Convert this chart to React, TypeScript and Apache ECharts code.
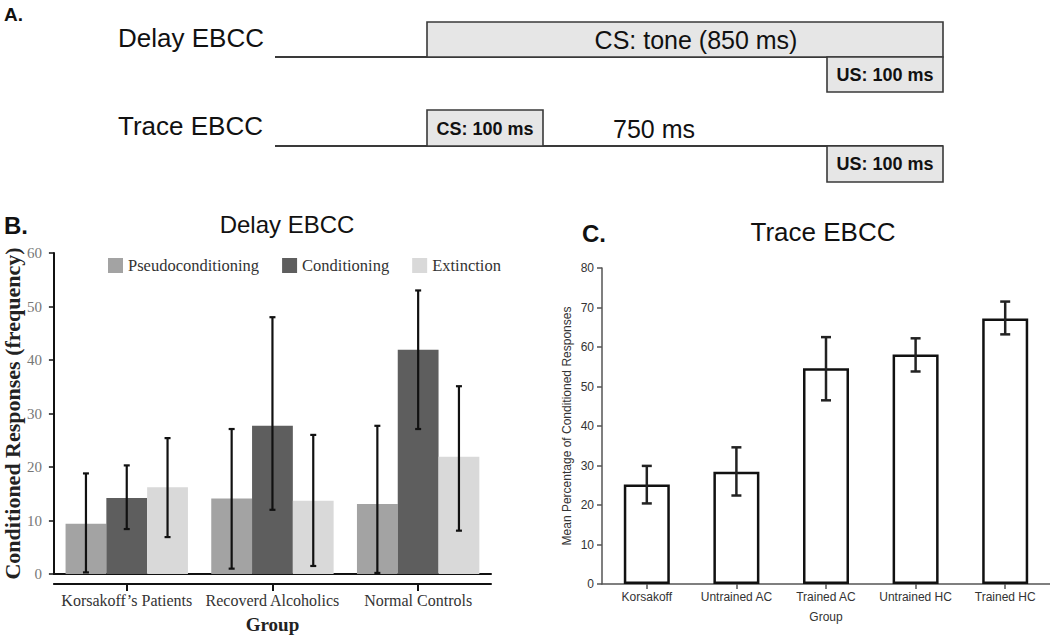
import React, { useEffect, useRef } from "react";
import * as echarts from "echarts";

// ---------- Panel B data (Delay EBCC) ----------
const B_CATEGORIES = ["Korsakoff’s Patients", "Recoverd Alcoholics", "Normal Controls"];
const B_SERIES_NAMES = ["Pseudoconditioning", "Conditioning", "Extinction"];
const B_PSEUDO = [9.4, 14.1, 13.1];
const B_PSEUDO_LO = [0.3, 1.0, 0.2];
const B_PSEUDO_HI = [18.8, 27.1, 27.7];
const B_COND = [14.2, 27.7, 41.9];
const B_COND_LO = [8.4, 12.0, 27.1];
const B_COND_HI = [20.3, 48.0, 53.0];
const B_EXT = [16.2, 13.7, 21.9];
const B_EXT_LO = [6.9, 1.5, 8.1];
const B_EXT_HI = [25.4, 26.0, 35.1];

// ---------- Panel C data (Trace EBCC) ----------
const C_CATEGORIES = ["Korsakoff", "Untrained AC", "Trained AC", "Untrained HC", "Trained HC"];
const C_MEANS = [25.2, 28.4, 54.6, 58.1, 67.2];
const C_LO = [20.4, 22.4, 46.5, 53.8, 63.2];
const C_HI = [29.9, 34.6, 62.5, 62.2, 71.5];

const SANS = "'Liberation Sans', Arial, Helvetica, sans-serif";
const SERIF = "'Liberation Serif', 'Times New Roman', serif";

const B_GROUP_FRAC = 0.84;

function errorBar(offsetIdx: number, groupSize: number, groupFrac: number, capHalf: number, lineW: number, color: string) {
  return (params: any, api: any) => {
    const xi = api.value(0);
    const lo = api.coord([xi, api.value(1)]);
    const hi = api.coord([xi, api.value(2)]);
    const band = api.size([1, 0])[0];
    const bw = (band * groupFrac) / groupSize;
    const cx = lo[0] + (offsetIdx - (groupSize - 1) / 2) * bw;
    const style = { stroke: color, lineWidth: lineW };
    return {
      type: "group",
      children: [
        { type: "line", shape: { x1: cx, y1: lo[1], x2: cx, y2: hi[1] }, style },
        { type: "line", shape: { x1: cx - capHalf, y1: hi[1], x2: cx + capHalf, y2: hi[1] }, style },
        { type: "line", shape: { x1: cx - capHalf, y1: lo[1], x2: cx + capHalf, y2: lo[1] }, style },
      ],
    };
  };
}

function errData(lo: number[], hi: number[]) {
  return lo.map((l, i) => [i, l, hi[i]]);
}

function buildPanelA(): any[] {
  const lineStyle = { stroke: "#3a3a3a", lineWidth: 2 };
  const boxStyle = { fill: "#e6e6e6", stroke: "#3a3a3a", lineWidth: 1.6 };
  const txt = (text: string, x: number, y: number, size: number, weight: string, align: string) => ({
    type: "text",
    x,
    y,
    style: { text, fontFamily: SANS, fontSize: size, fontWeight: weight, fill: "#111", align, verticalAlign: "middle" },
  });
  return [
    txt("A.", 4, 14, 19, "bold", "left"),
    txt("Delay EBCC", 118, 38, 26, "normal", "left"),
    { type: "line", shape: { x1: 275, y1: 57, x2: 943, y2: 57 }, style: lineStyle },
    { type: "rect", shape: { x: 427, y: 22, width: 516, height: 35 }, style: boxStyle },
    txt("CS: tone (850 ms)", 696, 40, 25, "normal", "center"),
    { type: "rect", shape: { x: 827, y: 57, width: 116, height: 35 }, style: boxStyle },
    txt("US: 100 ms", 885, 75, 18, "bold", "center"),
    txt("Trace EBCC", 118, 126, 26, "normal", "left"),
    { type: "line", shape: { x1: 275, y1: 146, x2: 943, y2: 146 }, style: lineStyle },
    { type: "rect", shape: { x: 427, y: 110, width: 116, height: 36 }, style: boxStyle },
    txt("CS: 100 ms", 485, 129, 18, "bold", "center"),
    txt("750 ms", 613, 129, 25, "normal", "left"),
    { type: "rect", shape: { x: 827, y: 146, width: 116, height: 36 }, style: boxStyle },
    txt("US: 100 ms", 885, 164, 18, "bold", "center"),
    txt("B.", 4, 225, 24, "bold", "left"),
    txt("C.", 582, 233, 24, "bold", "left"),
  ];
}

export default function App() {
  const ref = useRef<HTMLDivElement>(null);

  useEffect(() => {
    if (!ref.current) return;
    const chart = echarts.init(ref.current, undefined, { renderer: "svg" });
    const bColors = ["#a3a3a3", "#5e5e5e", "#d9d9d9"];
    const bValues = [B_PSEUDO, B_COND, B_EXT];
    const bErr = [
      errData(B_PSEUDO_LO, B_PSEUDO_HI),
      errData(B_COND_LO, B_COND_HI),
      errData(B_EXT_LO, B_EXT_HI),
    ];

    const option: any = {
      animation: false,
      backgroundColor: "#ffffff",
      title: [
        {
          text: "Delay EBCC",
          left: 287,
          top: 212,
          textAlign: "center",
          padding: 0,
          textStyle: { fontFamily: SANS, fontSize: 24, fontWeight: "normal", color: "#111" },
        },
        {
          text: "Trace EBCC",
          left: 823,
          top: 219,
          textAlign: "center",
          padding: 0,
          textStyle: { fontFamily: SANS, fontSize: 26, fontWeight: "normal", color: "#111" },
        },
      ],
      legend: {
        data: B_SERIES_NAMES,
        left: 108,
        top: 257,
        itemWidth: 15,
        itemHeight: 15,
        itemGap: 23,
        icon: "rect",
        padding: 0,
        textStyle: { fontFamily: SERIF, fontSize: 16.5, color: "#333" },
      },
      grid: [
        { left: 50, top: 253, width: 441, height: 325 },
        { left: 602, top: 268, width: 462, height: 316 },
      ],
      xAxis: [
        {
          gridIndex: 0,
          type: "category",
          data: B_CATEGORIES,
          axisLine: { lineStyle: { color: "#111", width: 2 } },
          axisTick: { show: false },
          axisLabel: { show: false },
        },
        {
          gridIndex: 0,
          type: "category",
          data: B_CATEGORIES,
          position: "bottom",
          offset: 10,
          axisLine: { lineStyle: { color: "#111", width: 2 } },
          axisTick: { show: true, alignWithLabel: true, length: 7, lineStyle: { color: "#111", width: 2 } },
          axisLabel: { interval: 0, margin: 8, fontFamily: SERIF, fontSize: 16, color: "#333" },
          name: "Group",
          nameLocation: "middle",
          nameGap: 31,
          nameTextStyle: { fontFamily: SERIF, fontSize: 19, fontWeight: "bold", color: "#222" },
        },
        {
          gridIndex: 1,
          type: "category",
          data: C_CATEGORIES,
          axisLine: { lineStyle: { color: "#555", width: 1.5 } },
          axisTick: { show: true, alignWithLabel: true, length: 5, lineStyle: { color: "#555", width: 1.5 } },
          axisLabel: { interval: 0, margin: 7, fontFamily: SANS, fontSize: 12, color: "#333" },
          name: "Group",
          nameLocation: "middle",
          nameGap: 27,
          nameTextStyle: { fontFamily: SANS, fontSize: 12, color: "#333" },
        },
      ],
      yAxis: [
        {
          gridIndex: 0,
          type: "value",
          min: 0,
          max: 60,
          interval: 10,
          axisLine: { show: true, lineStyle: { color: "#111", width: 2 } },
          axisTick: { show: true, length: 5, lineStyle: { color: "#111", width: 1.5 } },
          axisLabel: { margin: 12, fontFamily: SERIF, fontSize: 15, color: "#777" },
          splitLine: { show: false },
          name: "Conditioned Responses (frequency)",
          nameLocation: "middle",
          nameGap: 28,
          nameTextStyle: { fontFamily: SERIF, fontSize: 22, fontWeight: "bold", color: "#222" },
        },
        {
          gridIndex: 1,
          type: "value",
          min: 0,
          max: 80,
          interval: 10,
          axisLine: { show: true, lineStyle: { color: "#555", width: 1.5 } },
          axisTick: { show: true, length: 5, lineStyle: { color: "#555", width: 1.5 } },
          axisLabel: { margin: 8, fontFamily: SANS, fontSize: 12, color: "#333" },
          splitLine: { show: false },
          name: "Mean Percentage of Conditioned Responses",
          nameLocation: "middle",
          nameGap: 29,
          nameTextStyle: { fontFamily: SANS, fontSize: 12, color: "#333" },
        },
      ],
      series: [
        ...B_SERIES_NAMES.map((name, i) => ({
          name,
          type: "bar",
          xAxisIndex: 0,
          yAxisIndex: 0,
          data: bValues[i],
          barGap: "0%",
          barCategoryGap: "16%",
          itemStyle: { color: bColors[i] },
          z: 2,
        })),
        ...B_SERIES_NAMES.map((name, i) => ({
          name: name + " error",
          type: "custom",
          xAxisIndex: 0,
          yAxisIndex: 0,
          data: bErr[i],
          encode: { x: 0, y: [1, 2] },
          renderItem: errorBar(i, 3, B_GROUP_FRAC, 3, 2.2, "#111"),
          z: 5,
        })),
        {
          name: "Trace mean",
          type: "bar",
          xAxisIndex: 2,
          yAxisIndex: 1,
          data: C_MEANS,
          barWidth: 46,
          itemStyle: { color: "#ffffff", borderColor: "#111", borderWidth: 2.5 },
          z: 2,
        },
        {
          name: "Trace error",
          type: "custom",
          xAxisIndex: 2,
          yAxisIndex: 1,
          data: errData(C_LO, C_HI),
          encode: { x: 0, y: [1, 2] },
          renderItem: errorBar(0, 1, 1, 5, 2.5, "#222"),
          z: 5,
        },
      ],
      graphic: buildPanelA(),
    };
    chart.setOption(option);
    return () => chart.dispose();
  }, []);

  return (
    <div
      ref={ref}
      style={{ position: "fixed", left: 0, top: 0, width: 1050, height: 639, background: "#fff" }}
    />
  );
}
